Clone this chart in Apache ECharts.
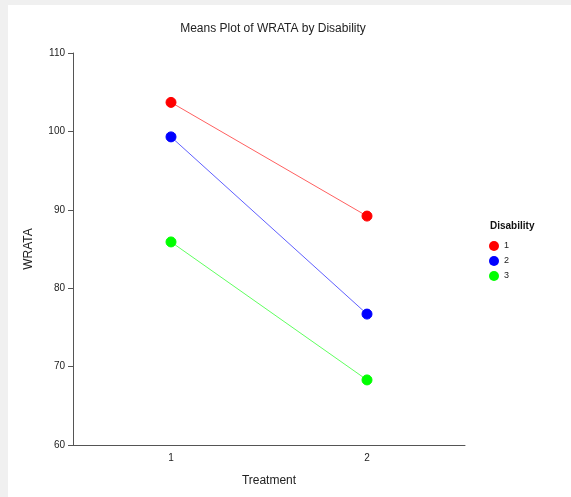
<!DOCTYPE html>
<html>
<head>
<meta charset="utf-8">
<script src="https://cdn.jsdelivr.net/npm/echarts@6/dist/echarts.min.js"></script>
<style>
	html, body { margin: 0; padding: 0; background: #f0f0f0; }
	#chart { width: 571px; height: 497px; }
</style>
</head>
<body>
<div id="chart"></div>
<script>
const treatments = ['1', '2'];
const disabilityGroups = ['1', '2', '3'];
const groupColors = ['#ff0000', '#0000ff', '#00ff00'];
const lineColors = ['#ff6060', '#6060ff', '#60ff60'];
// means per disability group, by treatment
const means1 = [103.7, 89.2];
const means2 = [99.3, 76.7];
const means3 = [85.9, 68.3];
const yTicks = { min: 60, max: 110, interval: 10 };

const allMeans = [means1, means2, means3];
const font = 'Arial, "Liberation Sans", sans-serif';

const chart = echarts.init(document.querySelector('#chart'));

chart.setOption({
	backgroundColor: '#f0f0f0',
	animation: false,
	graphic: [{
		// white panel
		type: 'rect',
		z: -10,
		shape: { x: 8, y: 5, width: 563, height: 492 },
		style: { fill: '#ffffff' }
	}, {
		// legend title
		type: 'text',
		left: 490,
		top: 221,
		style: { text: 'Disability', font: `bold 10px ${font}`, fill: '#111' }
	}],
	title: {
		text: 'Means Plot of WRATA by Disability',
		left: 268,
		top: 18,
		textAlign: 'center',
		textStyle: { fontFamily: font, fontSize: 12, fontWeight: 'normal', color: '#222' }
	},
	legend: {
		orient: 'vertical',
		left: 484,
		top: 236,
		itemWidth: 10,
		itemHeight: 10,
		itemGap: 5,
		icon: 'circle',
		data: disabilityGroups,
		textStyle: { fontFamily: font, fontSize: 9, color: '#222' }
	},
	grid: { left: 73, right: 106, top: 53, bottom: 52 },
	xAxis: {
		type: 'category',
		data: treatments,
		boundaryGap: true,
		name: 'Treatment',
		nameLocation: 'middle',
		nameGap: 30,
		nameTextStyle: { fontFamily: font, fontSize: 12, color: '#222' },
		axisLine: { lineStyle: { color: '#555', width: 1 } },
		axisTick: { alignWithLabel: true, length: 5, lineStyle: { color: '#555' } },
		axisLabel: { fontFamily: font, fontSize: 10, color: '#222', margin: 8 },
		splitLine: { show: false }
	},
	yAxis: {
		type: 'value',
		min: yTicks.min,
		max: yTicks.max,
		interval: yTicks.interval,
		name: 'WRATA',
		nameLocation: 'middle',
		nameGap: 38,
		nameTextStyle: { fontFamily: font, fontSize: 12, color: '#222' },
		axisLine: { show: true, lineStyle: { color: '#555', width: 1 } },
		axisTick: { show: true, length: 5, lineStyle: { color: '#555' } },
		axisLabel: { fontFamily: font, fontSize: 10, color: '#222', margin: 8 },
		splitLine: { show: false }
	},
	series: disabilityGroups.map((g, i) => ({
		name: g,
		type: 'line',
		data: allMeans[i],
		symbol: 'circle',
		symbolSize: 10,
		itemStyle: { color: groupColors[i], borderColor: groupColors[i] },
		lineStyle: { color: lineColors[i], width: 1 }
	}))
});
</script>
</body>
</html>
